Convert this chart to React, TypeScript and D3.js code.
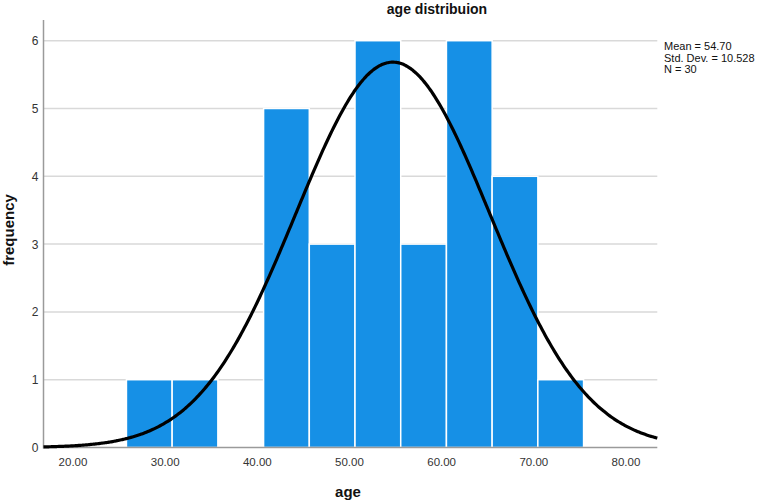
import React from "react";
import * as d3 from "d3";

const binStart = 25.8;
const binWidth = 4.96;
const binCounts = [1, 1, 0, 5, 3, 6, 3, 6, 4, 1];
const xTicks = [20, 30, 40, 50, 60, 70, 80];
const yTicks = [0, 1, 2, 3, 4, 5, 6];
const mean = 54.7;
const sd = 10.528;
const n = 30;
const curveBin = 5;
const statsLines = ["Mean = 54.70", "Std. Dev. = 10.528", "N = 30"];

const W = 760;
const H = 503;
const left = 43.5;
const right = 657.3;
const top = 20;
const bottom = 447.5;

export default function App() {
  const x = d3.scaleLinear().domain([16.8, 83.4]).range([left, right]);
  const y = d3.scaleLinear().domain([0, 6]).range([bottom, 40.7]);
  const font = "'Liberation Sans', Arial, sans-serif";

  const bars = binCounts.map((c, i) => ({
    x0: binStart + i * binWidth,
    x1: binStart + (i + 1) * binWidth,
    c,
  }));

  const pts: [number, number][] = d3.range(0, 401).map((i) => {
    const v = 16.8 + ((83.4 - 16.8) * i) / 400;
    const d =
      (n * curveBin) / (sd * Math.sqrt(2 * Math.PI)) *
      Math.exp(-((v - mean) ** 2) / (2 * sd * sd));
    return [v, d];
  });
  const line = d3
    .line<[number, number]>()
    .x((d) => x(d[0]))
    .y((d) => y(d[1]))
    .curve(d3.curveBasis);

  return (
    <svg
      width={W}
      height={H}
      style={{ position: "absolute", left: 0, top: 0, background: "#fff" }}
      fontFamily={font}
    >
      {yTicks
        .filter((t) => t > 0)
        .map((t) => (
          <line key={t} x1={left} x2={right} y1={y(t)} y2={y(t)} stroke="#d9d9d9" strokeWidth={1.5} />
        ))}
      {bars
        .filter((b) => b.c > 0)
        .map((b, i) => (
          <rect
            key={i}
            x={x(b.x0)}
            y={y(b.c)}
            width={x(b.x1) - x(b.x0)}
            height={y(0) - y(b.c)}
            fill="#1690e6"
            stroke="#ffffff"
            strokeWidth={1.5}
          />
        ))}
      <line x1={left} x2={left} y1={top} y2={bottom + 1} stroke="#9a9a9a" strokeWidth={1.5} />
      <line x1={left} x2={right} y1={bottom} y2={bottom} stroke="#9a9a9a" strokeWidth={1.5} />
      <path d={line(pts) || ""} fill="none" stroke="#000" strokeWidth={3.2} />
      {yTicks.map((t) => (
        <text key={t} x={38.5} y={y(t) + 4.5} textAnchor="end" fontSize={12} fill="#333">
          {t}
        </text>
      ))}
      {xTicks.map((t) => (
        <text key={t} x={x(t)} y={465.5} textAnchor="middle" fontSize={11.5} fill="#333">
          {t.toFixed(2)}
        </text>
      ))}
      <text x={437} y={14} textAnchor="middle" fontSize={14} fontWeight="bold" fill="#111">
        age distribuion
      </text>
      <text x={348} y={497} textAnchor="middle" fontSize={15} fontWeight="bold" fill="#111">
        age
      </text>
      <text
        transform={`translate(14,230) rotate(-90)`}
        textAnchor="middle"
        fontSize={15}
        fontWeight="bold"
        fill="#111"
      >
        frequency
      </text>
      {statsLines.map((s, i) => (
        <text key={i} x={664} y={50 + i * 11.5} fontSize={11} fill="#111">
          {s}
        </text>
      ))}
    </svg>
  );
}
